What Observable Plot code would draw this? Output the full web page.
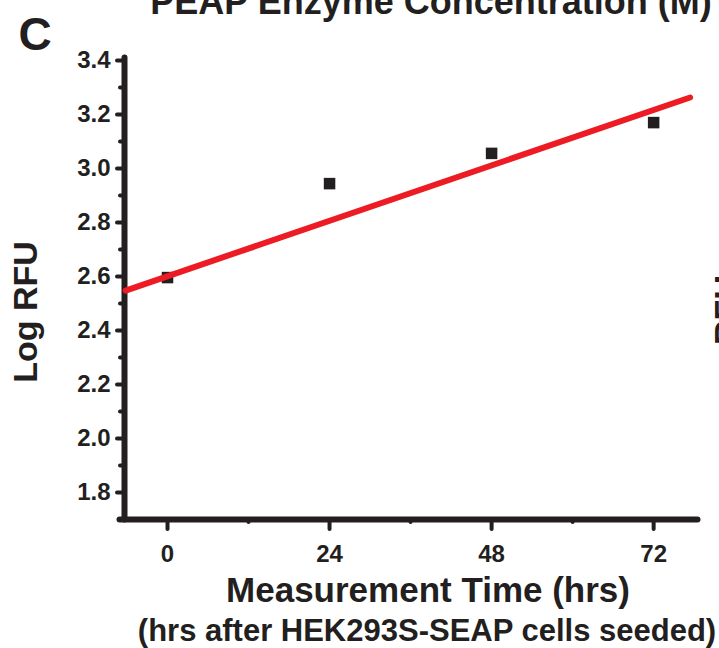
<!DOCTYPE html>
<html><head><meta charset="utf-8">
<script src="https://cdn.jsdelivr.net/npm/d3@7"></script>
<script src="https://cdn.jsdelivr.net/npm/@observablehq/plot@0.6"></script>
<style>
html,body{margin:0;padding:0;background:#fff;overflow:hidden;width:719px;height:648px;}
g[aria-label="y-axis tick label"], g[aria-label="x-axis tick label"] { font-size: 24px; font-weight: bold; }
</style></head><body><div id="chart"></div>
<script>
// Data
const hours = [0, 24, 48, 72];
const logRFU = [2.596, 2.944, 3.056, 3.170];
const fitHours = [-6.2, 77.4];
const fitLogRFU = [2.548, 3.263];
const xTicks = [0, 24, 48, 72];
const xMinorTicks = [12, 36, 60];
const yTicks = [1.8, 2.0, 2.2, 2.4, 2.6, 2.8, 3.0, 3.2, 3.4];
const yMinorTicks = [1.9, 2.1, 2.3, 2.5, 2.7, 2.9, 3.1, 3.3];
const xDomain = [-6.37, 78.2];
const yDomain = [1.7, 3.4];
const xLabel = "Measurement Time (hrs)";
const xSubLabel = "(hrs after HEK293S-SEAP cells seeded)";
const yLabel = "Log RFU";
const panelLetter = "C";
const topTitle = "PEAP Enzyme Concentration (M)";
const rightLabel = "RFU";

const points = hours.map((h, i) => ({h, v: logRFU[i]}));
const fit = fitHours.map((h, i) => ({h, v: fitLogRFU[i]}));
const ink = "#231f20";
const red = "#ed1c24";
const font = "'Liberation Sans', Arial, Helvetica, sans-serif";

const plot = Plot.plot({
  width: 719, height: 648,
  marginLeft: 124, marginRight: 24, marginTop: 60, marginBottom: 129,
  style: {fontFamily: font, background: "#fff", color: ink},
  x: {domain: xDomain},
  y: {domain: yDomain},
  marks: [
    Plot.axisY(yMinorTicks, {tickSize: 4, strokeWidth: 4, strokeLinecap: "round", tickFormat: () => "", label: null}),
    Plot.axisY(yTicks, {tickSize: 7, tickPadding: 7, strokeWidth: 4, strokeLinecap: "round", fontSize: 24, fontWeight: "bold", tickFormat: d => d.toFixed(1), label: null}),
    Plot.axisX(xMinorTicks, {tickSize: 3, strokeWidth: 4, strokeLinecap: "round", tickFormat: () => "", label: null}),
    Plot.axisX(xTicks, {tickSize: 10, tickPadding: 15, strokeWidth: 4, strokeLinecap: "round", fontSize: 24, fontWeight: "bold", tickFormat: d => String(d), label: null}),
    Plot.frame({anchor: "left", stroke: ink, strokeWidth: 6, strokeLinecap: "round", insetTop: -3}),
    Plot.frame({anchor: "bottom", stroke: ink, strokeWidth: 6, strokeLinecap: "round", insetLeft: -5, insetRight: -2}),
    Plot.dot(points, {x: "h", y: "v", symbol: "square", r: 6.5, fill: ink, stroke: null}),
    Plot.line(fit, {x: "h", y: "v", stroke: red, strokeWidth: 6}),
    Plot.text([yLabel], {frameAnchor: "left", rotate: -90, textAnchor: "middle", dx: -112, dy: 22, lineAnchor: "top", fontSize: 34, fontWeight: "bold", fill: ink}),
    Plot.text([rightLabel], {frameAnchor: "right", rotate: -90, textAnchor: "middle", dx: 18, dy: 20, lineAnchor: "top", fontSize: 34, fontWeight: "bold", fill: ink}),
    Plot.text([panelLetter], {frameAnchor: "top-left", dx: -106, dy: -43, textAnchor: "start", lineAnchor: "top", fontSize: 46, fontWeight: "bold", fill: ink}),
    Plot.text([topTitle], {frameAnchor: "top", textAnchor: "middle", dx: 21, dy: -47, lineAnchor: "bottom", fontSize: 36, fontWeight: "bold", fill: ink}),
    Plot.text([xLabel], {frameAnchor: "bottom", textAnchor: "middle", dx: 18, dy: 82, lineAnchor: "bottom", fontSize: 35, fontWeight: "bold", fill: ink}),
    Plot.text([xSubLabel], {frameAnchor: "bottom", textAnchor: "middle", dx: 17, dy: 121, lineAnchor: "bottom", fontSize: 31, fontWeight: "bold", fill: ink})
  ]
});
document.getElementById("chart").appendChild(plot);
</script>
</body></html>
